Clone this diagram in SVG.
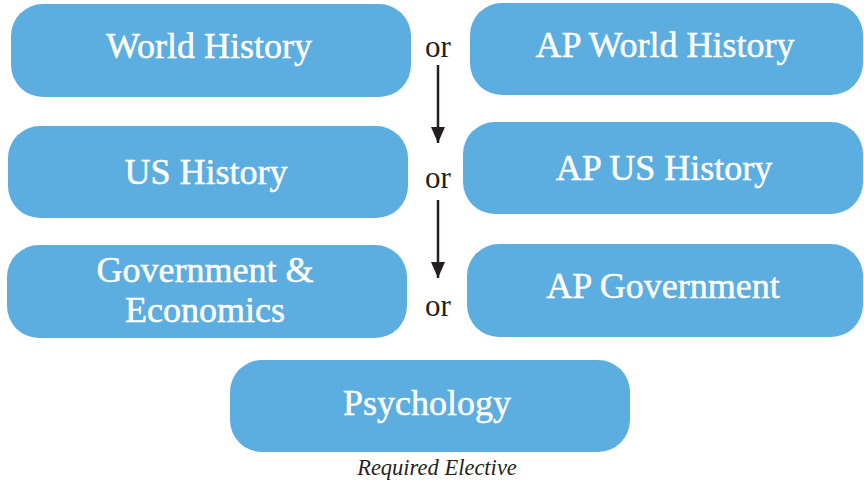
<svg xmlns="http://www.w3.org/2000/svg" width="864" height="482" viewBox="0 0 864 482">
<style>
.box{fill:#5caee0;}
.lbl{font-family:"Liberation Serif","DejaVu Serif",serif;font-size:36px;fill:#ffffff;text-anchor:middle;stroke:#ffffff;stroke-width:0.5;}
.or{font-family:"Liberation Serif","DejaVu Serif",serif;font-size:31px;fill:#231f20;text-anchor:middle;}
.cap{font-family:"Liberation Serif","DejaVu Serif",serif;font-size:22.5px;font-style:italic;fill:#231f20;text-anchor:middle;}
.conn{stroke:#231f20;stroke-width:2.5;fill:none;}
</style>
<defs>
<marker id="ah" markerWidth="16" markerHeight="14" refX="16" refY="7" orient="auto" markerUnits="userSpaceOnUse" viewBox="0 0 16 14">
<path d="M0,0 L16,7 L0,14 Z" fill="#231f20"/>
</marker>
</defs>
<g id="world-history"><rect class="box" x="11" y="4" width="400" height="93" rx="32"/><text class="lbl" x="209" y="58">World History</text></g>
<g id="ap-world-history"><rect class="box" x="470" y="3" width="393" height="92" rx="32"/><text class="lbl" x="665" y="57">AP World History</text></g>
<g id="us-history"><rect class="box" x="8" y="126" width="400" height="92" rx="32"/><text class="lbl" x="206" y="184">US History</text></g>
<g id="ap-us-history"><rect class="box" x="463" y="122" width="400" height="92" rx="32"/><text class="lbl" x="664" y="180">AP US History</text></g>
<g id="gov-econ"><rect class="box" x="7" y="245" width="400" height="93" rx="32"/><text class="lbl" x="205" y="282">Government &amp;</text><text class="lbl" x="205" y="322">Economics</text></g>
<g id="ap-government"><rect class="box" x="467" y="244" width="396" height="93" rx="32"/><text class="lbl" x="663" y="298">AP Government</text></g>
<g id="psychology"><rect class="box" x="230" y="360" width="400" height="92" rx="32"/><text class="lbl" x="427" y="415">Psychology</text><text class="cap" x="437" y="475">Required Elective</text></g>
<g id="or-labels"><text class="or" x="438" y="57">or</text><text class="or" x="438" y="188">or</text><text class="or" x="438" y="316">or</text></g>
<g id="connectors">
<line class="conn" x1="438" y1="65" x2="438" y2="143" marker-end="url(#ah)"/>
<line class="conn" x1="438" y1="200" x2="438" y2="278" marker-end="url(#ah)"/>
</g>
</svg>
